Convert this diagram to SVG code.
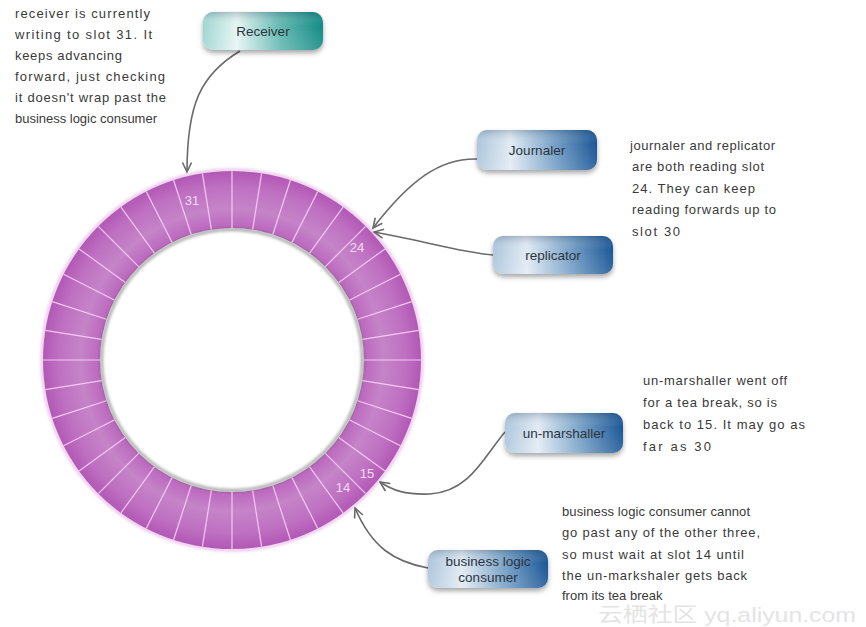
<svg xmlns="http://www.w3.org/2000/svg" xmlns:xlink="http://www.w3.org/1999/xlink" width="866" height="627" viewBox="0 0 866 627">
<defs>
<style>
.note{font-family:"Liberation Sans",Arial,sans-serif;font-size:13px;fill:#3a3a3a;}
.lbl{font-family:"Liberation Sans",Arial,sans-serif;font-size:13.5px;fill:#2a3440;text-anchor:middle;}
.num{font-family:"Liberation Sans",Arial,sans-serif;font-size:13px;fill:#f7dcf7;text-anchor:middle;}
.con{fill:none;stroke:#6a6a6a;stroke-width:1.6;marker-end:url(#arr);}
.seg{stroke:#f3c8f3;stroke-width:1.2;}
.wm{font-family:"Liberation Sans","Noto Sans CJK SC",sans-serif;font-size:20px;fill:#e4e4e4;}
</style>
<marker id="arr" viewBox="0 0 12 12" refX="10.5" refY="6" markerWidth="12" markerHeight="12" markerUnits="userSpaceOnUse" orient="auto">
<path d="M1,1.5 L10.5,6 L1,10.5" fill="none" stroke="#6a6a6a" stroke-width="1.6"/>
</marker>
<radialGradient id="ringG" gradientUnits="userSpaceOnUse" cx="232" cy="360" r="189">
<stop offset="0.69" stop-color="#ba64bd"/>
<stop offset="0.8" stop-color="#c584c8"/>
<stop offset="0.92" stop-color="#be6fc1"/>
<stop offset="1" stop-color="#b258b5"/>
</radialGradient>
<linearGradient id="blueG" x1="0" y1="0" x2="1" y2="0">
<stop offset="0" stop-color="#aec6dc"/>
<stop offset="0.28" stop-color="#e2ebf4"/>
<stop offset="0.62" stop-color="#7fa6ca"/>
<stop offset="1" stop-color="#1b5797"/>
</linearGradient>
<linearGradient id="tealG" x1="0" y1="0" x2="1" y2="0">
<stop offset="0" stop-color="#9fd6d1"/>
<stop offset="0.28" stop-color="#e6f5f3"/>
<stop offset="0.65" stop-color="#62b8b1"/>
<stop offset="1" stop-color="#148a84"/>
</linearGradient>
<linearGradient id="shade" x1="0" y1="0" x2="0" y2="1">
<stop offset="0" stop-color="#0a2a4a" stop-opacity="0.22"/>
<stop offset="0.35" stop-color="#ffffff" stop-opacity="0"/>
<stop offset="1" stop-color="#ffffff" stop-opacity="0.12"/>
</linearGradient>
<filter id="sh" x="-20%" y="-30%" width="140%" height="170%">
<feDropShadow dx="0" dy="3" stdDeviation="2.5" flood-color="#000" flood-opacity="0.35"/>
</filter>
<filter id="blur" x="-10%" y="-10%" width="120%" height="120%">
<feGaussianBlur stdDeviation="1.8"/>
</filter>
<line id="seg" class="seg" x1="232" y1="228" x2="232" y2="171"/>
</defs>
<rect width="866" height="627" fill="#ffffff"/>

<g id="ring">
<circle cx="232" cy="360" r="190" fill="none" stroke="#e9c2ea" stroke-width="3" filter="url(#blur)"/>
<path d="M43,360 A189,189 0 1,0 421,360 A189,189 0 1,0 43,360 Z M100,360 A132,132 0 1,1 364,360 A132,132 0 1,1 100,360 Z" fill="url(#ringG)" fill-rule="evenodd"/>
<circle cx="232" cy="360" r="130.5" fill="none" stroke="#5a5a5a" stroke-width="3" opacity="0.55" filter="url(#blur)"/>
<g id="slots">
<use xlink:href="#seg"/>
<use xlink:href="#seg" transform="rotate(9 232 360)"/>
<use xlink:href="#seg" transform="rotate(18 232 360)"/>
<use xlink:href="#seg" transform="rotate(27 232 360)"/>
<use xlink:href="#seg" transform="rotate(36 232 360)"/>
<use xlink:href="#seg" transform="rotate(45 232 360)"/>
<use xlink:href="#seg" transform="rotate(54 232 360)"/>
<use xlink:href="#seg" transform="rotate(63 232 360)"/>
<use xlink:href="#seg" transform="rotate(72 232 360)"/>
<use xlink:href="#seg" transform="rotate(81 232 360)"/>
<use xlink:href="#seg" transform="rotate(90 232 360)"/>
<use xlink:href="#seg" transform="rotate(99 232 360)"/>
<use xlink:href="#seg" transform="rotate(108 232 360)"/>
<use xlink:href="#seg" transform="rotate(117 232 360)"/>
<use xlink:href="#seg" transform="rotate(126 232 360)"/>
<use xlink:href="#seg" transform="rotate(135 232 360)"/>
<use xlink:href="#seg" transform="rotate(144 232 360)"/>
<use xlink:href="#seg" transform="rotate(153 232 360)"/>
<use xlink:href="#seg" transform="rotate(162 232 360)"/>
<use xlink:href="#seg" transform="rotate(171 232 360)"/>
<use xlink:href="#seg" transform="rotate(180 232 360)"/>
<use xlink:href="#seg" transform="rotate(189 232 360)"/>
<use xlink:href="#seg" transform="rotate(198 232 360)"/>
<use xlink:href="#seg" transform="rotate(207 232 360)"/>
<use xlink:href="#seg" transform="rotate(216 232 360)"/>
<use xlink:href="#seg" transform="rotate(225 232 360)"/>
<use xlink:href="#seg" transform="rotate(234 232 360)"/>
<use xlink:href="#seg" transform="rotate(243 232 360)"/>
<use xlink:href="#seg" transform="rotate(252 232 360)"/>
<use xlink:href="#seg" transform="rotate(261 232 360)"/>
<use xlink:href="#seg" transform="rotate(270 232 360)"/>
<use xlink:href="#seg" transform="rotate(279 232 360)"/>
<use xlink:href="#seg" transform="rotate(288 232 360)"/>
<use xlink:href="#seg" transform="rotate(297 232 360)"/>
<use xlink:href="#seg" transform="rotate(306 232 360)"/>
<use xlink:href="#seg" transform="rotate(315 232 360)"/>
<use xlink:href="#seg" transform="rotate(324 232 360)"/>
<use xlink:href="#seg" transform="rotate(333 232 360)"/>
<use xlink:href="#seg" transform="rotate(342 232 360)"/>
<use xlink:href="#seg" transform="rotate(351 232 360)"/>
</g>
<text class="num" x="192" y="205">31</text>
<text class="num" x="357" y="252">24</text>
<text class="num" x="367" y="478">15</text>
<text class="num" x="343" y="492">14</text>
</g>

<g id="connectors">
<path class="con" d="M240,51 C200,75 187,105 187,172"/>
<path class="con" d="M477,159 C440,158 410,180 373,228"/>
<path class="con" d="M493,255 C460,252 420,240 374,232"/>
<path class="con" d="M505,432 C485,455 470,492 430,494 C405,495 392,490 380,482"/>
<path class="con" d="M428,568 C395,562 372,548 355,508"/>
</g>

<g id="receiver">
<rect x="203" y="12" width="120" height="38" rx="10" fill="url(#tealG)" filter="url(#sh)"/>
<rect x="203" y="12" width="120" height="38" rx="10" fill="url(#shade)"/>
<text class="lbl" x="263" y="36">Receiver</text>
</g>
<g id="journaler">
<rect x="477" y="130" width="120" height="40" rx="10" fill="url(#blueG)" filter="url(#sh)"/>
<rect x="477" y="130" width="120" height="40" rx="10" fill="url(#shade)"/>
<text class="lbl" x="537" y="155">Journaler</text>
</g>
<g id="replicator">
<rect x="493" y="236" width="120" height="38" rx="10" fill="url(#blueG)" filter="url(#sh)"/>
<rect x="493" y="236" width="120" height="38" rx="10" fill="url(#shade)"/>
<text class="lbl" x="553" y="260">replicator</text>
</g>
<g id="unmarshaller">
<rect x="505" y="413" width="118" height="40" rx="10" fill="url(#blueG)" filter="url(#sh)"/>
<rect x="505" y="413" width="118" height="40" rx="10" fill="url(#shade)"/>
<text class="lbl" x="564" y="438">un-marshaller</text>
</g>
<g id="consumer">
<rect x="428" y="550" width="120" height="38" rx="10" fill="url(#blueG)" filter="url(#sh)"/>
<rect x="428" y="550" width="120" height="38" rx="10" fill="url(#shade)"/>
<text class="lbl" x="488" y="566">business logic</text>
<text class="lbl" x="488" y="582">consumer</text>
</g>

<g id="note-receiver">
<text class="note" x="15" y="18" textLength="135" lengthAdjust="spacing">receiver is currently</text>
<text class="note" x="15" y="39" textLength="137" lengthAdjust="spacing">writing to slot 31. It</text>
<text class="note" x="15" y="60" textLength="107" lengthAdjust="spacing">keeps advancing</text>
<text class="note" x="15" y="81" textLength="150" lengthAdjust="spacing">forward, just checking</text>
<text class="note" x="15" y="102" textLength="151" lengthAdjust="spacing">it doesn't wrap past the</text>
<text class="note" x="15" y="123" textLength="142" lengthAdjust="spacing">business logic consumer</text>
</g>
<g id="note-journaler">
<text class="note" x="630" y="150" textLength="145" lengthAdjust="spacing">journaler and replicator</text>
<text class="note" x="632" y="171" textLength="132" lengthAdjust="spacing">are both reading slot</text>
<text class="note" x="632" y="193" textLength="123" lengthAdjust="spacing">24. They can keep</text>
<text class="note" x="632" y="214" textLength="144" lengthAdjust="spacing">reading forwards up to</text>
<text class="note" x="632" y="236" textLength="48" lengthAdjust="spacing">slot 30</text>
</g>
<g id="note-unmarshaller">
<text class="note" x="643" y="385" textLength="144" lengthAdjust="spacing">un-marshaller went off</text>
<text class="note" x="643" y="407" textLength="134" lengthAdjust="spacing">for a tea break, so is</text>
<text class="note" x="643" y="429" textLength="162" lengthAdjust="spacing">back to 15. It may go as</text>
<text class="note" x="643" y="451" textLength="68" lengthAdjust="spacing">far as 30</text>
</g>
<g id="note-consumer">
<text class="note" x="562" y="516" textLength="188" lengthAdjust="spacing">business logic consumer cannot</text>
<text class="note" x="562" y="537" textLength="198" lengthAdjust="spacing">go past any of the other three,</text>
<text class="note" x="562" y="559" textLength="182" lengthAdjust="spacing">so must wait at slot 14 until</text>
<text class="note" x="562" y="580" textLength="185" lengthAdjust="spacing">the un-markshaler gets back</text>
<text class="note" x="562" y="600">from its tea break</text>
</g>
<g id="watermark">
<text class="wm" x="598" y="622" textLength="258" lengthAdjust="spacingAndGlyphs">云栖社区 yq.aliyun.com</text>
</g>
</svg>
